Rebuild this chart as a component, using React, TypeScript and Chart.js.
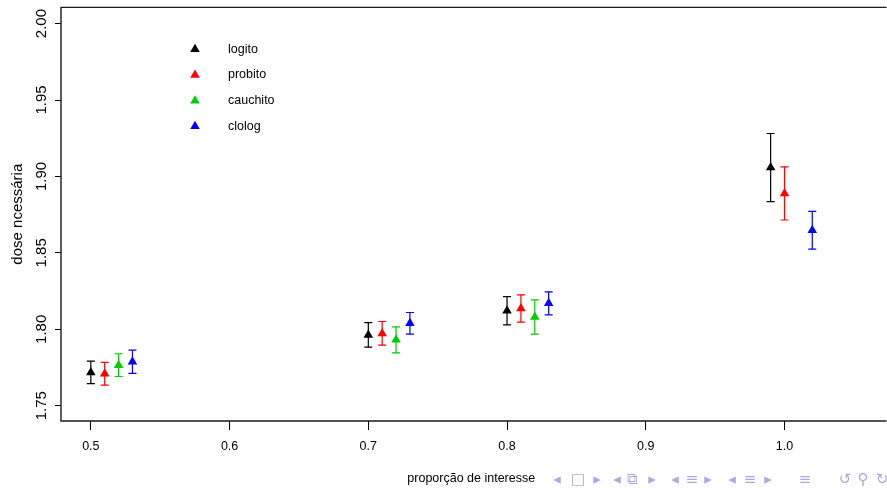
import React, { useEffect, useRef } from "react";
import { Chart, registerables } from "chart.js";

Chart.register(...registerables);

// ---- data ----
const xTicks = [0.5, 0.6, 0.7, 0.8, 0.9, 1.0];
const yTicks = [1.75, 1.8, 1.85, 1.9, 1.95, 2.0];

const seriesNames = ["logito", "probito", "cauchito", "clolog"];
const seriesColors = ["#000000", "#FF0000", "#00CD00", "#0000FF"];

const logitoX = [0.5, 0.7, 0.8, 0.99];
const logitoDose = [1.7718, 1.7963, 1.8121, 1.9058];
const logitoLower = [1.7644, 1.7883, 1.8029, 1.8835];
const logitoUpper = [1.7792, 1.8044, 1.8214, 1.9281];

const probitoX = [0.51, 0.71, 0.81, 1.0];
const probitoDose = [1.7709, 1.7973, 1.8136, 1.8889];
const probitoLower = [1.7635, 1.7896, 1.8047, 1.8715];
const probitoUpper = [1.7783, 1.8051, 1.8225, 1.9063];

const cauchitoX = [0.52, 0.72, 0.82];
const cauchitoDose = [1.7765, 1.7931, 1.808];
const cauchitoLower = [1.7691, 1.7846, 1.7968];
const cauchitoUpper = [1.784, 1.8016, 1.8192];

const clologX = [0.53, 0.73, 0.83, 1.02];
const clologDose = [1.7788, 1.8039, 1.817, 1.8648];
const clologLower = [1.7711, 1.7968, 1.8094, 1.8524];
const clologUpper = [1.7864, 1.811, 1.8245, 1.8772];

const xLabel = "proporção de interesse";
const yLabel = "dose ncessária";

const seriesX = [logitoX, probitoX, cauchitoX, clologX];
const seriesDose = [logitoDose, probitoDose, cauchitoDose, clologDose];
const seriesLower = [logitoLower, probitoLower, cauchitoLower, clologLower];
const seriesUpper = [logitoUpper, probitoUpper, cauchitoUpper, clologUpper];

const HFONT = "'Liberation Sans', Arial, sans-serif";
const REGULAR = "'Liberation Sans', Arial, sans-serif";
const HSIZE = 12.5;

const navItems: [string, number][] = [
  ["◂", 557], ["□", 578], ["▸", 597],
  ["◂", 617], ["⧉", 632], ["▸", 652],
  ["◂", 675], ["≡", 692], ["▸", 708],
  ["◂", 732], ["≡", 750], ["▸", 768],
  ["≡", 805],
  ["↺", 845], ["⚲", 863], ["↻", 882],
];

function drawTriangle(ctx: CanvasRenderingContext2D, x: number, y: number, r: number, color: string) {
  ctx.save();
  ctx.fillStyle = color;
  ctx.beginPath();
  ctx.moveTo(x, y - r);
  ctx.lineTo(x + r * Math.sin(Math.PI / 3), y + r / 2);
  ctx.lineTo(x - r * Math.sin(Math.PI / 3), y + r / 2);
  ctx.closePath();
  ctx.fill();
  ctx.restore();
}

const errorBarPlugin = {
  id: "errorBars",
  beforeDatasetsDraw(chart: any) {
    const { ctx, scales } = chart;
    const xs = scales.x;
    const ys = scales.y;
    seriesX.forEach((xsArr, i) => {
      ctx.save();
      ctx.strokeStyle = seriesColors[i];
      ctx.lineWidth = 1.2;
      xsArr.forEach((xv, j) => {
        const px = xs.getPixelForValue(xv);
        const pl = ys.getPixelForValue(seriesLower[i][j]);
        const pu = ys.getPixelForValue(seriesUpper[i][j]);
        ctx.beginPath();
        ctx.moveTo(px, pl);
        ctx.lineTo(px, pu);
        ctx.moveTo(px - 4, pl);
        ctx.lineTo(px + 4, pl);
        ctx.moveTo(px - 4, pu);
        ctx.lineTo(px + 4, pu);
        ctx.stroke();
      });
      ctx.restore();
    });
  },
};

const boxPlugin = {
  id: "rBox",
  afterDraw(chart: any) {
    const { ctx, chartArea } = chart;
    const { left, top, right, bottom } = chartArea;
    ctx.save();
    ctx.strokeStyle = "#1a1a1a";
    ctx.lineWidth = 1.4;
    ctx.beginPath();
    ctx.moveTo(right + 5, top);
    ctx.lineTo(left, top);
    ctx.lineTo(left, bottom);
    ctx.lineTo(right + 5, bottom);
    ctx.stroke();
    ctx.restore();
  },
};

const legendPlugin = {
  id: "rLegend",
  afterDraw(chart: any) {
    const { ctx } = chart;
    const rows = [48.3, 74, 99.7, 125.3];
    ctx.save();
    ctx.font = `${HSIZE}px ${HFONT}`;
    ctx.textBaseline = "middle";
    ctx.textAlign = "left";
    seriesNames.forEach((name, i) => {
      drawTriangle(ctx, 195, rows[i] + 1, 5.5, seriesColors[i]);
      ctx.fillStyle = "#000";
      ctx.fillText(name, 228, rows[i] + 1);
    });
    ctx.restore();
  },
};

export default function App() {
  const canvasRef = useRef<HTMLCanvasElement | null>(null);

  useEffect(() => {
    document.body.style.margin = "0";
    const canvas = canvasRef.current;
    if (!canvas) return;
    const datasets = seriesNames.map((name, i) => ({
      label: name,
      data: seriesX[i].map((xv, j) => ({ x: xv, y: seriesDose[i][j] })),
      backgroundColor: seriesColors[i],
      borderColor: seriesColors[i],
      borderWidth: 0,
      pointStyle: "triangle" as const,
      pointRadius: 5.5,
      pointHoverRadius: 5.5,
      showLine: false,
    }));
    const chart = new Chart(canvas, {
      type: "scatter",
      data: { datasets },
      options: {
        animation: false,
        responsive: false,
        maintainAspectRatio: false,
        events: [],
        layout: { padding: { top: 7, left: 0, right: 0, bottom: 0 } },
        plugins: {
          legend: { display: false },
          tooltip: { enabled: false },
        },
        scales: {
          x: {
            type: "linear",
            position: "bottom",
            min: 0.4785,
            max: 1.0699,
            afterBuildTicks: (s: any) => {
              s.ticks = xTicks.map((v) => ({ value: v }));
            },
            afterFit: (s: any) => {
              s.height = 67;
            },
            grid: {
              drawOnChartArea: false,
              drawTicks: true,
              tickLength: 9,
              tickColor: "#000",
              tickWidth: 1,
            },
            border: { display: false },
            ticks: {
              minRotation: 0,
              maxRotation: 0,
              padding: 9,
              color: "#000",
              font: { family: HFONT, size: HSIZE },
              callback: (v: any) => Number(v).toFixed(1),
            },
            title: {
              display: true,
              text: xLabel,
              color: "#000",
              font: { family: HFONT, size: HSIZE },
              padding: { top: 0, bottom: 1.5 },
            },
          },
          y: {
            type: "linear",
            position: "left",
            min: 1.74,
            max: 2.0106,
            afterBuildTicks: (s: any) => {
              s.ticks = yTicks.map((v) => ({ value: v }));
            },
            afterFit: (s: any) => {
              s.width = 61;
            },
            grid: {
              drawOnChartArea: false,
              drawTicks: true,
              tickLength: 6,
              tickColor: "#000",
              tickWidth: 1,
            },
            border: { display: false },
            ticks: {
              minRotation: 90,
              maxRotation: 90,
              crossAlign: "center",
              padding: -1.6,
              color: "#000",
              font: { family: REGULAR, size: 15 },
              callback: (v: any) => Number(v).toFixed(2),
            },
            title: {
              display: true,
              text: yLabel,
              color: "#000",
              font: { family: REGULAR, size: 15 },
              padding: { top: 8.5, bottom: 0 },
            },
          },
        },
      },
      plugins: [errorBarPlugin, boxPlugin, legendPlugin],
    } as any);
    return () => chart.destroy();
  }, []);

  return (
    <div style={{ position: "relative", width: 887, height: 488, overflow: "hidden" }}>
      <canvas ref={canvasRef} width={887} height={488} style={{ display: "block", width: 887, height: 488 }} />
      {navItems.map(([g, x], i) => (
        <span
          key={i}
          style={{
            position: "absolute",
            left: x,
            top: 479,
            transform: "translate(-50%, -50%)",
            color: "#aaaadd",
            font: `15px 'DejaVu Sans', sans-serif`,
            lineHeight: 1,
            whiteSpace: "nowrap",
          }}
        >
          {g}
        </span>
      ))}
    </div>
  );
}
